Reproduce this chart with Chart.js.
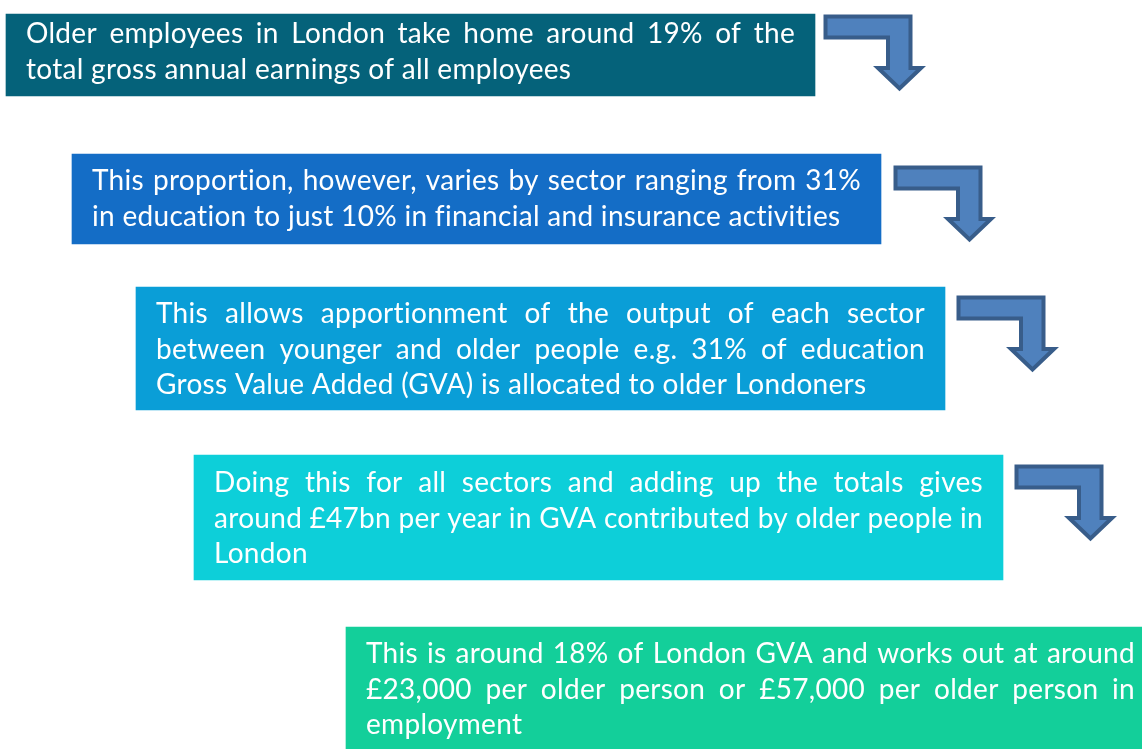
<!DOCTYPE html>
<html>
<head>
<meta charset="utf-8">
<script src="https://cdn.jsdelivr.net/npm/chart.js@4"></script>
<style>
html,body{margin:0;padding:0;background:#fff}
#wrap{width:1142px;height:749px}
</style>
</head>
<body>
<div id="wrap"><canvas id="flow" width="1142" height="749"></canvas></div>
<script>
// the five steps of the GVA estimate, one box each
const step1 = ['Older employees in London take home around 19% of the','total gross annual earnings of all employees'];
const step2 = ['This proportion, however, varies by sector ranging from 31%','in education to just 10% in financial and insurance activities'];
const step3 = ['This allows apportionment of the output of each sector','between younger and older people e.g. 31% of education','Gross Value Added (GVA) is allocated to older Londoners'];
const step4 = ['Doing this for all sectors and adding up the totals gives','around £47bn per year in GVA contributed by older people in','London'];
const step5 = ['This is around 18% of London GVA and works out at around','£23,000 per older person or £57,000 per older person in','employment'];
const steps = [step1,step2,step3,step4,step5];

// box spans (horizontal start/end, vertical top/bottom)
const spanFrom = [6,72,136,194,346];
const spanTo = [815,881,945,1003,1155];
const spanTop = [14,154,287,455,627];
const spanBottom = [96,244,410,580,752];

const boxColors = ['#05627a','#146dc6','#0a9ed7','#0dcfd9','#13cf9a'];
const arrowFill = '#4f81bd', arrowLine = '#385d8a';
const textPad = [29,36,36,37,36]; // first baseline below box top
const arrowOff = [[9,1],[13,12],[12,9],[12,10]];
const FONT = '28px Lato';
const LINE = 35.5;

function justifyLine(ctx,line,x,y,w,last){
  if(last){ctx.fillText(line,x,y);return}
  const words=line.split(' ');
  const widths=words.map(t=>ctx.measureText(t).width);
  const gap=(w-widths.reduce((a,b)=>a+b,0))/(words.length-1);
  let cx=x;
  words.forEach((t,i)=>{ctx.fillText(t,cx,y);cx+=widths[i]+gap});
}

function arrow(ctx,ax,ay){
  const p=[[1.5,1.5],[86.5,1.5],[86.5,53],[97,53],[75.5,73.5],[54,53],[64,53],[64,22.5],[1.5,22.5]];
  ctx.beginPath();
  p.forEach(([x,y],i)=>i?ctx.lineTo(ax+x,ay+y):ctx.moveTo(ax+x,ay+y));
  ctx.closePath();
  ctx.fillStyle=arrowFill;ctx.fill();
  ctx.lineWidth=4;ctx.lineJoin='miter';ctx.strokeStyle=arrowLine;ctx.stroke();
}

const boxText = {
  id:'boxText',
  afterDatasetsDraw(chart){
    const ctx=chart.ctx;
    ctx.save();
    ctx.font=FONT;ctx.textBaseline='alphabetic';ctx.textAlign='left';
    ctx.letterSpacing='0.3px'; // also keeps "ti" from joining
    steps.forEach((lines,i)=>{
      const bar=chart.getDatasetMeta(i).data[0];
      const left=Math.min(bar.base,bar.x), right=Math.max(bar.base,bar.x);
      const top=bar.y-bar.height/2;
      const w=right-left-40;
      ctx.fillStyle='#ffffff';
      lines.forEach((ln,j)=>justifyLine(ctx,ln,left+20,top+textPad[i]+j*LINE,w,j===lines.length-1));
      if(i<arrowOff.length) arrow(ctx,right+arrowOff[i][0],top+arrowOff[i][1]);
    });
    ctx.restore();
  }
};

new Chart(document.getElementById('flow'),{
  type:'bar',
  data:{
    labels:['box'],
    datasets:steps.map((s,i)=>({
      label:'Step '+(i+1),
      data:[{x:[spanFrom[i],spanTo[i]],y:(spanTop[i]+spanBottom[i])/2}],
      backgroundColor:boxColors[i],
      borderWidth:0,
      barThickness:spanBottom[i]-spanTop[i],
      stack:'flow'
    }))
  },
  options:{
    indexAxis:'y',
    responsive:false,
    animation:false,
    layout:{padding:0},
    plugins:{legend:{display:false},tooltip:{enabled:false}},
    scales:{
      x:{type:'linear',min:0,max:1142,display:false,stacked:false,offset:false},
      y:{type:'linear',min:0,max:749,reverse:true,display:false,stacked:true,offset:false}
    }
  },
  plugins:[boxText]
});
</script>
</body>
</html>
